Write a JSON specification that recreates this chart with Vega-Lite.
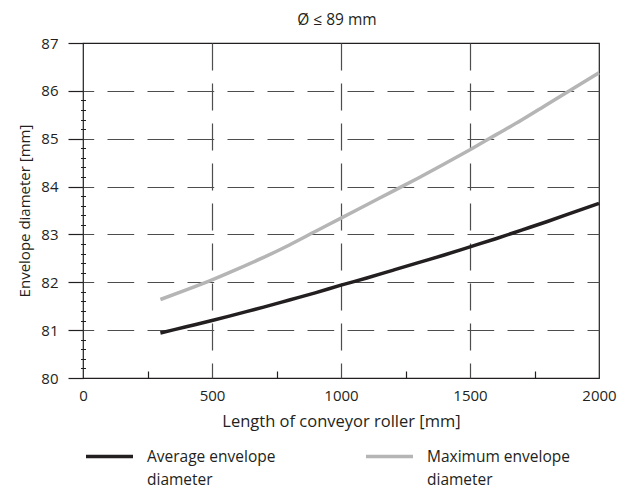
{
  "$schema": "https://vega.github.io/schema/vega-lite/v6.json",
  "width": 516,
  "height": 335,
  "autosize": {"type": "none"},
  "padding": {"left": 83, "top": 43, "right": 33, "bottom": 110},
  "background": "white",
  "config": {
    "font": "Open Sans",
    "view": {"stroke": "#231f20", "strokeWidth": 1.2},
    "axis": {"labelColor": "#231f20", "titleColor": "#231f20", "labelFont": "Open Sans", "titleFont": "Open Sans", "titleFontWeight": "normal"},
    "legend": {"labelColor": "#231f20", "labelFont": "Open Sans"}
  },
  "title": {"text": "Ø ≤ 89 mm", "fontSize": 15.5, "fontWeight": "normal", "color": "#231f20", "frame": "group", "anchor": "middle", "offset": 8, "font": "Open Sans", "dx": -4},
  "data": {
    "values": [
      {"length": 300, "diameter": 80.94, "series": "Average envelope diameter"},
      {"length": 400, "diameter": 81.07, "series": "Average envelope diameter"},
      {"length": 500, "diameter": 81.2, "series": "Average envelope diameter"},
      {"length": 600, "diameter": 81.34, "series": "Average envelope diameter"},
      {"length": 700, "diameter": 81.48, "series": "Average envelope diameter"},
      {"length": 800, "diameter": 81.63, "series": "Average envelope diameter"},
      {"length": 900, "diameter": 81.78, "series": "Average envelope diameter"},
      {"length": 1000, "diameter": 81.94, "series": "Average envelope diameter"},
      {"length": 1100, "diameter": 82.09, "series": "Average envelope diameter"},
      {"length": 1200, "diameter": 82.25, "series": "Average envelope diameter"},
      {"length": 1300, "diameter": 82.41, "series": "Average envelope diameter"},
      {"length": 1400, "diameter": 82.57, "series": "Average envelope diameter"},
      {"length": 1500, "diameter": 82.74, "series": "Average envelope diameter"},
      {"length": 1600, "diameter": 82.91, "series": "Average envelope diameter"},
      {"length": 1700, "diameter": 83.09, "series": "Average envelope diameter"},
      {"length": 1800, "diameter": 83.27, "series": "Average envelope diameter"},
      {"length": 1900, "diameter": 83.46, "series": "Average envelope diameter"},
      {"length": 2000, "diameter": 83.65, "series": "Average envelope diameter"},
      {"length": 300, "diameter": 81.64, "series": "Maximum envelope diameter"},
      {"length": 400, "diameter": 81.84, "series": "Maximum envelope diameter"},
      {"length": 500, "diameter": 82.05, "series": "Maximum envelope diameter"},
      {"length": 600, "diameter": 82.28, "series": "Maximum envelope diameter"},
      {"length": 700, "diameter": 82.52, "series": "Maximum envelope diameter"},
      {"length": 800, "diameter": 82.78, "series": "Maximum envelope diameter"},
      {"length": 900, "diameter": 83.06, "series": "Maximum envelope diameter"},
      {"length": 1000, "diameter": 83.34, "series": "Maximum envelope diameter"},
      {"length": 1100, "diameter": 83.62, "series": "Maximum envelope diameter"},
      {"length": 1200, "diameter": 83.9, "series": "Maximum envelope diameter"},
      {"length": 1300, "diameter": 84.18, "series": "Maximum envelope diameter"},
      {"length": 1400, "diameter": 84.47, "series": "Maximum envelope diameter"},
      {"length": 1500, "diameter": 84.77, "series": "Maximum envelope diameter"},
      {"length": 1600, "diameter": 85.08, "series": "Maximum envelope diameter"},
      {"length": 1700, "diameter": 85.39, "series": "Maximum envelope diameter"},
      {"length": 1800, "diameter": 85.72, "series": "Maximum envelope diameter"},
      {"length": 1900, "diameter": 86.05, "series": "Maximum envelope diameter"},
      {"length": 2000, "diameter": 86.38, "series": "Maximum envelope diameter"}
    ]
  },
  "layer": [
    {
      "mark": {"type": "line", "strokeWidth": 3.5, "strokeCap": "butt", "interpolate": "monotone"},
      "encoding": {
        "x": {
          "field": "length", "type": "quantitative",
          "scale": {"domain": [0, 2000], "nice": false, "zero": false},
          "axis": {
            "orient": "bottom",
            "values": [0, 500, 1000, 1500, 2000],
            "format": "d",
            "title": "Length of conveyor roller [mm]",
            "titleFontSize": 16.5, "titlePadding": 10,
            "labelFontSize": 15, "labelPadding": 10,
            "ticks": false, "tickSize": 0, "domain": false,
            "labelFlush": false,
            "grid": true,
            "gridColor": {"condition": {"test": "datum.value == 0 || datum.value == 2000", "value": "transparent"}, "value": "#4d4d4d"},
            "gridDash": [27, 13],
            "gridWidth": 1.2
          }
        },
        "y": {
          "field": "diameter", "type": "quantitative",
          "scale": {"domain": [80, 87], "nice": false, "zero": false},
          "axis": {
            "orient": "left",
            "values": [80, 81, 82, 83, 84, 85, 86, 87],
            "format": "d",
            "title": "Envelope diameter [mm]",
            "titleFontSize": 15, "titlePadding": 8,
            "labelFontSize": 15, "labelPadding": 10,
            "tickSize": 15, "tickColor": "#231f20", "tickWidth": 1.2,
            "domain": false,
            "labelFlush": false,
            "grid": true,
            "gridColor": {"condition": {"test": "datum.value == 80 || datum.value == 87", "value": "transparent"}, "value": "#4d4d4d"},
            "gridDash": [26.7, 13.3],
            "gridDashOffset": 16,
            "gridWidth": 1.2
          }
        },
        "color": {
          "field": "series", "type": "nominal",
          "scale": {"domain": ["Average envelope diameter", "Maximum envelope diameter"], "range": ["#231f20", "#b5b5b5"]},
          "legend": {
            "title": null,
            "orient": "none",
            "legendX": 1,
            "legendY": 388,
            "direction": "horizontal",
            "columns": 2,
            "columnPadding": 83,
            "padding": 0,
            "symbolType": "stroke",
            "symbolSize": 2209,
            "symbolStrokeWidth": 3.5,
            "labelFontSize": 15.5,
            "labelOffset": 12,
            "labelLimit": 300,
            "labelExpr": "[slice(datum.label, 0, lastindexof(datum.label, ' ')), slice(datum.label, lastindexof(datum.label, ' ') + 1)]",
            "encode": {"labels": {"update": {"lineHeight": {"value": 23}}}}
          }
        }
      }
    },
    {
      "mark": {"type": "line", "opacity": 0},
      "encoding": {
        "x": {
          "field": "length", "type": "quantitative",
          "axis": {
            "orient": "bottom",
            "values": [250, 750, 1250, 1750],
            "title": null, "labels": false, "domain": false, "grid": false,
            "tickSize": 7, "offset": -7, "tickColor": "#231f20", "tickWidth": 1.2
          }
        },
        "y": {
          "field": "diameter", "type": "quantitative",
          "axis": {
            "orient": "left",
            "values": [80.2, 80.4, 80.6, 80.8, 81.2, 81.4, 81.6, 81.8, 82.2, 82.4, 82.6, 82.8, 83.2, 83.4, 83.6, 83.8, 84.2, 84.4, 84.6, 84.8, 85.2, 85.4, 85.6, 85.8],
            "title": null, "labels": false, "domain": false, "grid": false,
            "tickSize": 5, "offset": -2.5, "tickColor": "#231f20", "tickWidth": 1
          }
        },
        "detail": {"field": "series", "type": "nominal"}
      }
    }
  ],
  "resolve": {"axis": {"x": "independent", "y": "independent"}}
}
